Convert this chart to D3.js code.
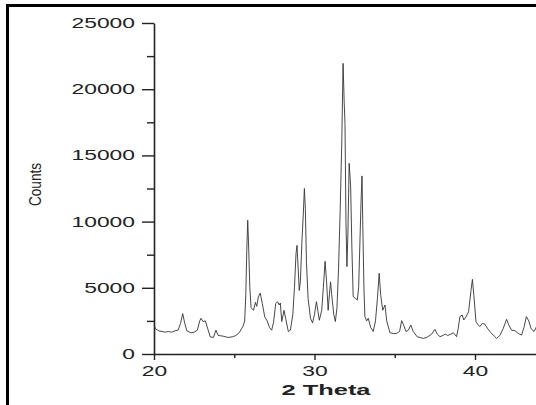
<!DOCTYPE html>
<html>
<head>
<meta charset="utf-8">
<script src="https://cdn.jsdelivr.net/npm/d3@7"></script>
<style>
  body { margin: 0; background: #fff; }
  svg { display: block; font-family: Arial, "Liberation Sans", sans-serif; }
</style>
</head>
<body>
<div id="chart"></div>
<script>
// diffraction pattern
const theta = [
  20.00, 20.10, 20.30, 20.50, 20.70, 20.90, 21.10, 21.30, 21.50, 21.65, 21.79, 21.92,
  22.05, 22.30, 22.50, 22.70, 22.85, 22.93, 23.05, 23.20, 23.35, 23.50, 23.70, 23.86,
  24.00, 24.30, 24.60, 24.90, 25.10, 25.30, 25.45, 25.55, 25.65, 25.72, 25.78, 25.84,
  25.90, 25.97, 26.05, 26.20, 26.32, 26.40, 26.50, 26.62, 26.75, 26.90, 27.05, 27.20,
  27.33, 27.45, 27.58, 27.70, 27.80, 27.87, 27.96, 28.10, 28.20, 28.37, 28.50, 28.65,
  28.75, 28.85, 28.91, 28.98, 29.05, 29.12, 29.22, 29.30, 29.37, 29.43, 29.50, 29.60,
  29.75, 29.88, 30.00, 30.12, 30.22, 30.30, 30.45, 30.55, 30.66, 30.75, 30.85, 30.93,
  31.00, 31.07, 31.20, 31.30, 31.40, 31.50, 31.60, 31.70, 31.78, 31.85, 31.90, 31.96,
  32.02, 32.08, 32.16, 32.25, 32.33, 32.41, 32.55, 32.67, 32.75, 32.82, 32.90, 32.96,
  33.02, 33.08, 33.14, 33.25, 33.35, 33.50, 33.66, 33.80, 33.92, 34.03, 34.12, 34.25,
  34.39, 34.50, 34.70, 34.90, 35.10, 35.30, 35.43, 35.55, 35.70, 35.85, 36.00, 36.15,
  36.40, 36.78, 37.00, 37.30, 37.50, 37.65, 37.82, 38.00, 38.15, 38.30, 38.50, 38.65,
  38.85, 38.95, 39.06, 39.20, 39.30, 39.45, 39.60, 39.75, 39.84, 39.93, 40.06, 40.20,
  40.30, 40.45, 40.60, 40.80, 41.00, 41.20, 41.35, 41.55, 41.75, 41.97, 42.10, 42.28,
  42.50, 42.70, 42.90, 43.05, 43.20, 43.35, 43.50, 43.68, 43.85
];
const counts = [
  2200, 1900, 1750, 1700, 1650, 1700, 1650, 1750, 1800, 2300, 3050, 2300,
  1750, 1600, 1650, 1800, 2500, 2700, 2450, 2500, 1900, 1300, 1250, 1800,
  1400, 1350, 1250, 1300, 1400, 1600, 1900, 2100, 2500, 4500, 7800, 10100,
  8000, 5000, 3500, 3300, 3900, 3600, 4300, 4600, 3800, 2800, 2500, 2000,
  1800, 2400, 3800, 3950, 3700, 3850, 2450, 3300, 2700, 1700, 1800, 3000,
  5000, 7600, 8200, 6500, 4800, 5500, 8600, 10500, 12500, 11000, 6900, 4200,
  2700, 2350, 3000, 3950, 3200, 2550, 3300, 5000, 7000, 5500, 3300, 4500,
  5450, 4500, 3000, 2450, 3500, 6500, 10900, 16000, 21950, 19000, 17400, 10000,
  6600, 9000, 14400, 12700, 8000, 4330, 4200, 4080, 5000, 8000, 11500, 13450,
  9000, 5000, 2820, 2500, 2700, 2000, 1700, 2500, 4200, 6100, 4500, 3300,
  3700, 2500, 1610, 1550, 1550, 1700, 2520, 2200, 1700, 1800, 2190, 1700,
  1300, 1180, 1250, 1500, 1860, 1500, 1310, 1400, 1500, 1400, 1500, 1610,
  1310, 1900, 2820, 2950, 2570, 2820, 3200, 4800, 5640, 4400, 2450, 2200,
  2070, 2300, 2270, 1900, 1600, 1350, 1180, 1400, 1900, 2620, 2200, 1800,
  1750, 1550, 1430, 2000, 2820, 2500, 1900, 1700, 2100
];
const yTicks = [0, 5000, 10000, 15000, 20000, 25000];
const yMinor = [2500, 7500, 12500, 17500, 22500];
const xTicks = [20, 30, 40];
const xMinor = [25, 35, 45];

const width = 536, height = 405;
const ink = '#222';

const svg = d3.select('#chart').append('svg')
  .attr('width', width)
  .attr('height', height);

svg.append('rect').attr('width', width).attr('height', height).attr('fill', '#fff');

const x = d3.scaleLinear().domain([20, 45]).range([154, 555.25]);
const y = d3.scaleLinear().domain([0, 25000]).range([354, 23]);

// minor ticks first, majors on top
svg.append('g')
  .attr('transform', 'translate(154,0)')
  .call(d3.axisLeft(y).tickValues(yMinor).tickSize(7).tickSizeOuter(0).tickFormat(''))
  .call(g => g.select('.domain').remove());
svg.append('g')
  .attr('transform', 'translate(0,354)')
  .call(d3.axisBottom(x).tickValues(xMinor).tickSize(4).tickSizeOuter(0).tickFormat(''))
  .call(g => g.select('.domain').remove());

const yAxis = svg.append('g')
  .attr('transform', 'translate(154,0)')
  .call(d3.axisLeft(y).tickValues(yTicks).tickFormat(d3.format('d'))
    .tickSize(12).tickPadding(7).tickSizeOuter(0));

const xAxis = svg.append('g')
  .attr('transform', 'translate(0,354)')
  .call(d3.axisBottom(x).tickValues(xTicks).tickFormat(d3.format('d'))
    .tickSize(6).tickPadding(6).tickSizeOuter(0));

svg.selectAll('.tick line').attr('stroke', ink).attr('stroke-width', 1.4);
[yAxis, xAxis].forEach(g => {
  g.select('.domain').attr('stroke', ink).attr('stroke-width', 1.6);
  g.selectAll('text')
    .attr('fill', ink)
    .style('font-size', '14px')
    .attr('lengthAdjust', 'spacingAndGlyphs')
    .attr('textLength', function () { return this.textContent.length * 12.7; });
});

// the pattern
svg.append('path')
  .datum(theta.map((t, i) => [t, counts[i]]))
  .attr('fill', 'none')
  .attr('stroke', '#333')
  .attr('stroke-width', 0.9)
  .attr('stroke-linejoin', 'round')
  .attr('d', d3.line().x(d => x(d[0])).y(d => y(d[1])));

svg.append('text')
  .attr('x', 326).attr('y', 395)
  .attr('text-anchor', 'middle')
  .attr('font-weight', 'bold')
  .style('font-size', '14px')
  .attr('fill', ink)
  .attr('textLength', 89)
  .attr('lengthAdjust', 'spacingAndGlyphs')
  .text('2 Theta');

svg.append('text')
  .attr('transform', 'translate(41,184.5) rotate(-90)')
  .attr('text-anchor', 'middle')
  .style('font-size', '17px')
  .attr('fill', ink)
  .attr('textLength', 43)
  .attr('lengthAdjust', 'spacingAndGlyphs')
  .text('Counts');

// frame edges (left and top only, the rest is cropped away)
svg.append('rect').attr('x', 6).attr('y', 4).attr('width', 3).attr('height', height - 4).attr('fill', '#000');
svg.append('rect').attr('x', 6).attr('y', 4).attr('width', width - 6).attr('height', 3).attr('fill', '#000');
</script>
</body>
</html>
